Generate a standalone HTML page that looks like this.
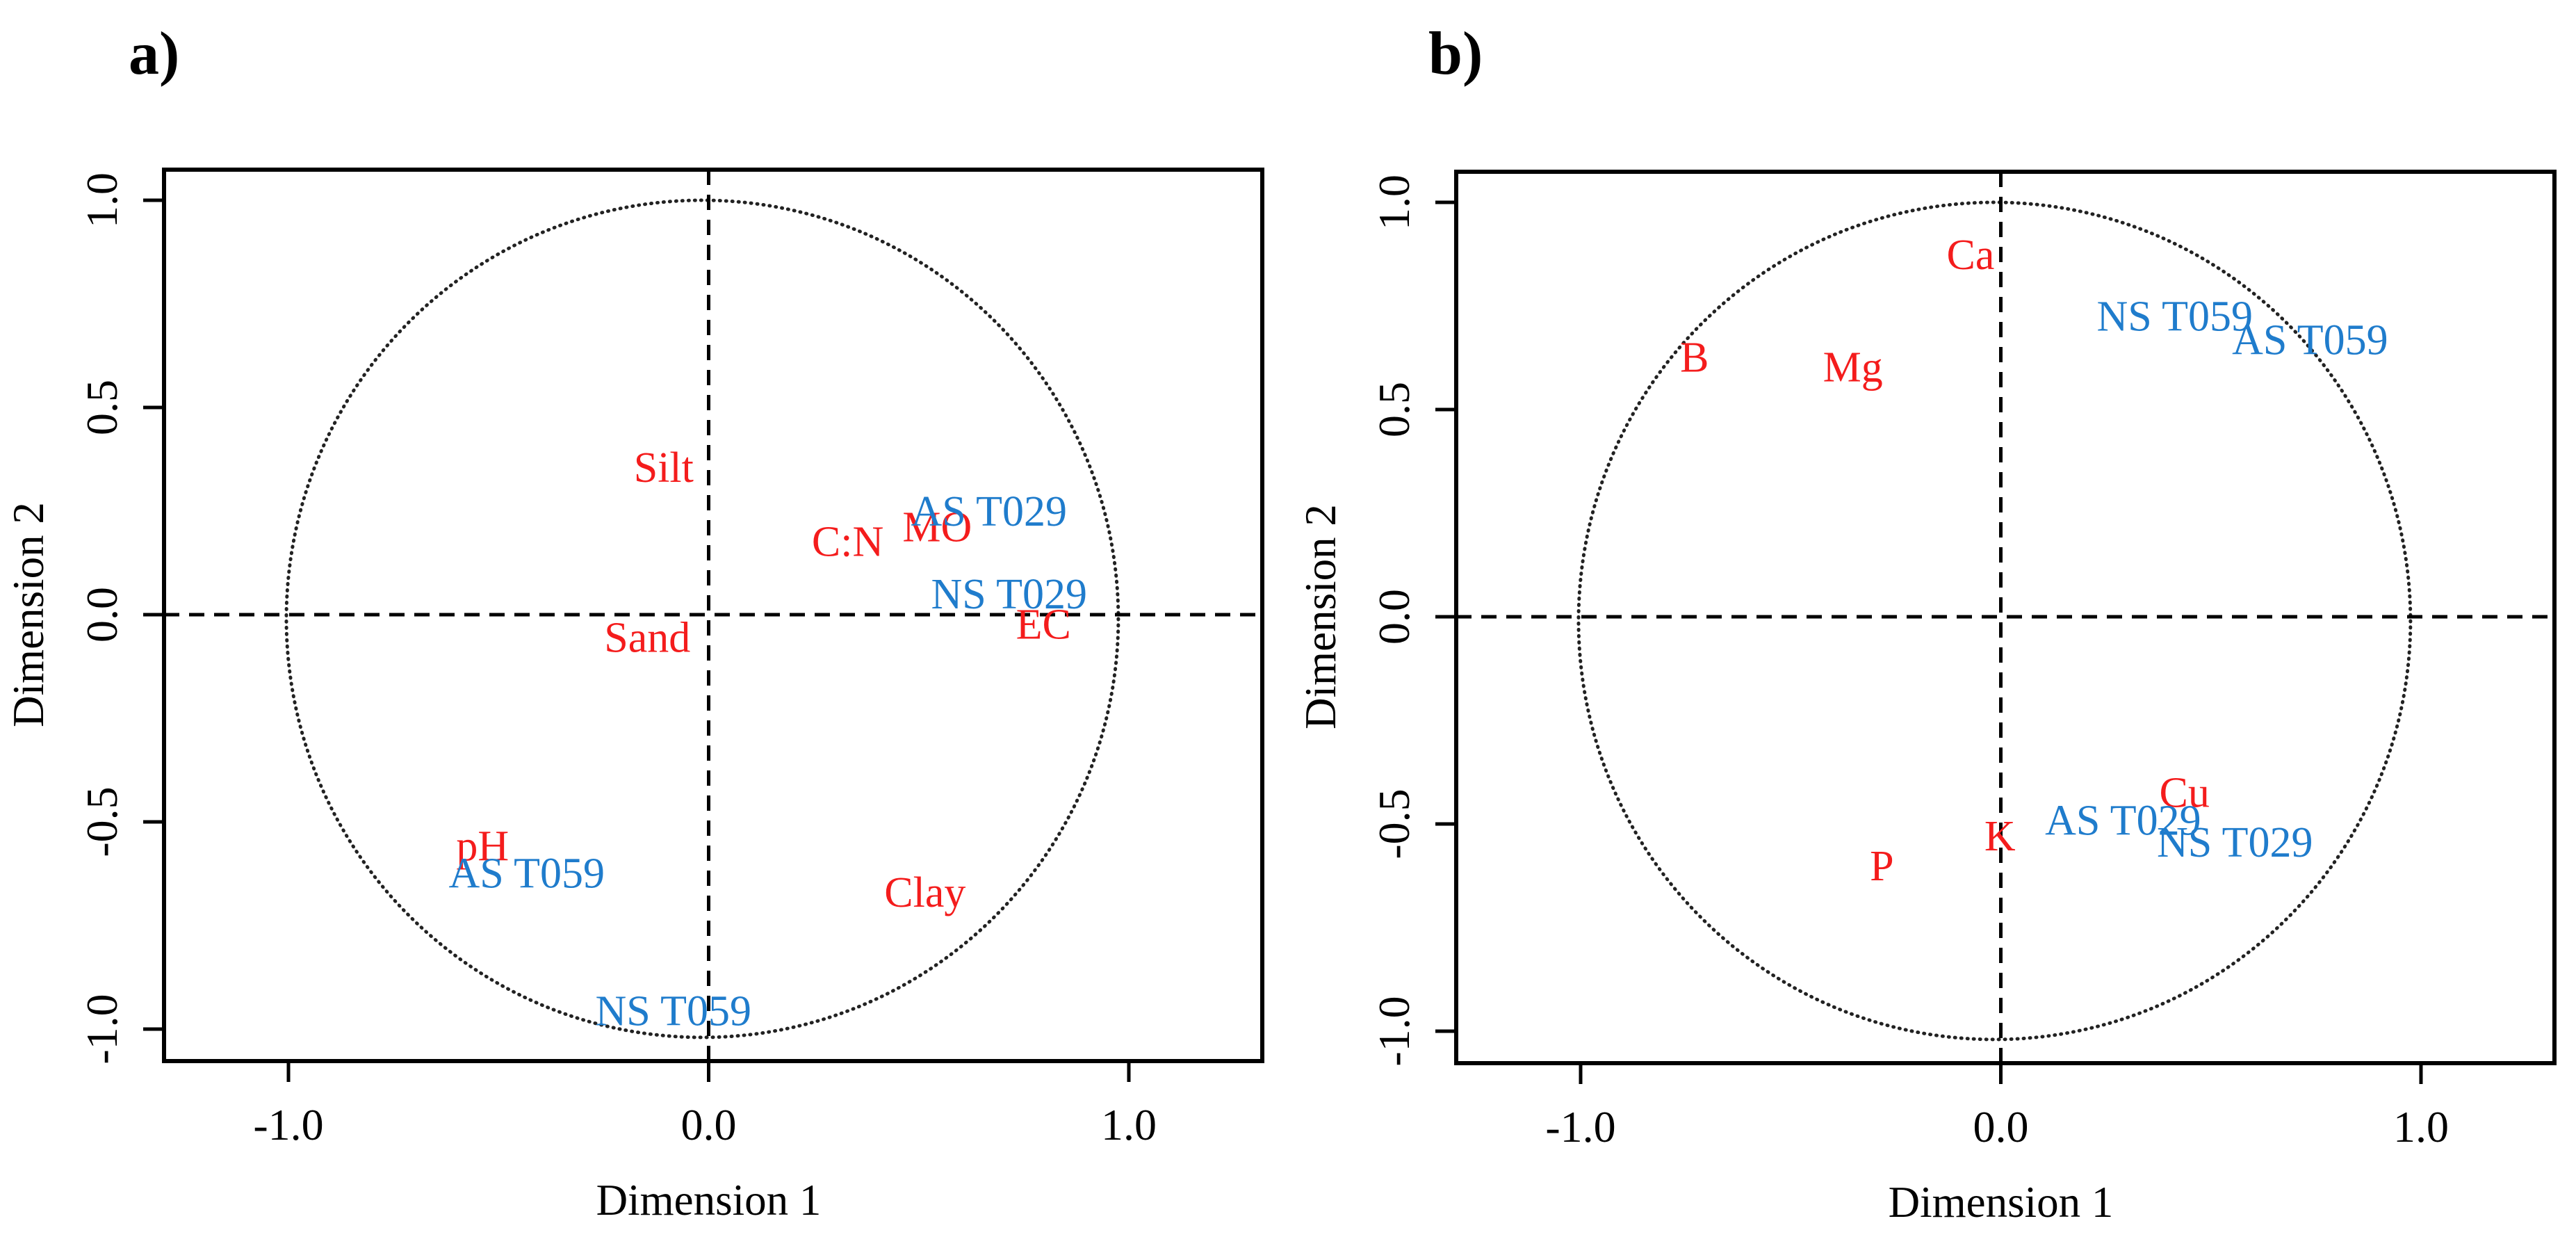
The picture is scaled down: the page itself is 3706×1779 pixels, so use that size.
<!DOCTYPE html>
<html><head><meta charset="utf-8"><style>
html,body{margin:0;padding:0;background:#fff;}
svg{display:block;}
text{font-family:"Liberation Serif","Times New Roman",serif;}
</style></head><body>
<svg id="fig" width="3706" height="1779" viewBox="0 0 3706 1779" xmlns="http://www.w3.org/2000/svg"></svg>
<script>
const aLabels = ["Silt","C:N","MO","AS T029","NS T029","EC","Sand","pH","AS T059","Clay","NS T059"];
const aX = [-0.107,0.331,0.544,0.667,0.715,0.797,-0.146,-0.538,-0.433,0.515,-0.084];
const aY = [0.357,0.179,0.214,0.252,0.052,-0.021,-0.053,-0.555,-0.622,-0.668,-0.954];
const aType = ["v","v","v","s","s","v","v","v","s","v","s"];
const bLabels = ["Ca","NS T059","AS T059","B","Mg","Cu","AS T029","K","NS T029","P"];
const bX = [-0.072,0.414,0.736,-0.729,-0.352,0.437,0.291,-0.002,0.557,-0.283];
const bY = [0.876,0.727,0.670,0.628,0.605,-0.422,-0.489,-0.527,-0.542,-0.599];
const bType = ["v","s","s","v","v","v","s","v","s","v"];
const xTicks = [-1,0,1];
const xTickLabels = ["-1.0","0.0","1.0"];
const yTicks = [-1,-0.5,0,0.5,1];
const yTickLabels = ["-1.0","-0.5","0.0","0.5","1.0"];

const NS="http://www.w3.org/2000/svg";
const svg=document.getElementById('fig');
function mk(tag,attrs,parent){const e=document.createElementNS(NS,tag);for(const k in attrs)e.setAttribute(k,attrs[k]);(parent||svg).appendChild(e);return e;}

function panel(id,ox,oy,tag,labels,xs,ys,types,tagX){
  const g=mk('g',{});
  
  
  const L=ox+236,R=ox+1816,T=oy+244,B=oy+1526;
  const x0=ox+1019.5,ux=604.5,y0=oy+884,uy=596;
  const sx=v=>x0+v*ux, sy=v=>y0-v*uy;
  const t=mk('text',{x:tagX,y:106,'font-size':88,'font-weight':'bold'},g);t.textContent=tag;
  
  
  const c=mk('ellipse',{cx:sx(-0.015),cy:sy(-0.01),rx:ux*0.99,ry:uy*1.01,fill:'none',stroke:'#222','stroke-width':5,'stroke-dasharray':'1 8','stroke-linecap':'round'},g);
  
  
  const h=mk('line',{x1:L,x2:R,y1:sy(0),y2:sy(0),stroke:'#000','stroke-width':5,'stroke-dasharray':'22 14'},g);
  
  
  const v=mk('line',{x1:sx(0),x2:sx(0),y1:T,y2:B,stroke:'#000','stroke-width':5,'stroke-dasharray':'22 14'},g);
  
  
  const box=mk('rect',{x:L,y:T,width:R-L,height:B-T,fill:'none',stroke:'#000','stroke-width':6},g);
  
  
  xTicks.forEach((tv,i)=>{
    const l=mk('line',{x1:sx(tv),x2:sx(tv),y1:B,y2:B+30,stroke:'#000','stroke-width':5},g);
    
    
    const tx=mk('text',{x:sx(tv),y:B+113,'font-size':64,'text-anchor':'middle'},g);tx.textContent=xTickLabels[i];
    
    
  });
  yTicks.forEach((tv,i)=>{
    const l=mk('line',{x1:L-30,x2:L,y1:sy(tv),y2:sy(tv),stroke:'#000','stroke-width':5},g);
    
    
    const px=L-68, py=sy(tv);
    const tx=mk('text',{x:px,y:py,'font-size':64,'text-anchor':'middle',transform:`rotate(-90 ${px} ${py})`},g);tx.textContent=yTickLabels[i];
    
    
  });
  const xt=mk('text',{x:sx(0),y:oy+1747,'font-size':63,'text-anchor':'middle'},g);xt.textContent='Dimension 1';
  
  
  const yx=ox+62, yy=sy(0);
  const yt=mk('text',{x:yx,y:yy,'font-size':63,'text-anchor':'middle',transform:`rotate(-90 ${yx} ${yy})`},g);yt.textContent='Dimension 2';
  
  
  labels.forEach((lab,i)=>{
    const e=mk('text',{x:sx(xs[i]),y:sy(ys[i])+22,'font-size':62,'text-anchor':'middle',fill:types[i]==='s'?'#1f7ccc':'#f41c1c'},g);
    e.textContent=lab;
    
    
  });
}
panel('a',0,0,'a)',aLabels,aX,aY,aType,185);
panel('b',1859,3,'b)',bLabels,bX,bY,bType,2055);
</script>
</body></html>
